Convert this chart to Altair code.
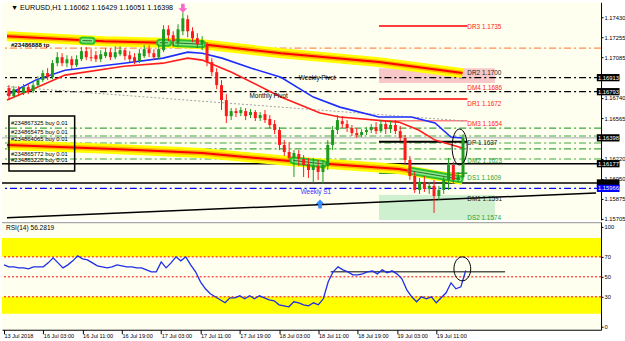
import altair as alt
import pandas as pd

FONT = "Liberation Sans"
GREEN = "#1E9B1E"
RED = "#FF1A1A"
DASHDOT = [7, 3, 2, 3]

# ---------------- data ----------------
# hourly bars, bar 0 = 13 Jul 2018 19:00
bar_open = [1.16824, 1.16755, 1.16815, 1.16781, 1.16832, 1.16798, 1.16849, 1.16892, 1.16952, 1.16917,
            1.17037, 1.17088, 1.17037, 1.17071, 1.17020, 1.17071, 1.17140, 1.17088, 1.17105, 1.17071,
            1.17097, 1.17131, 1.17088, 1.17114, 1.17148, 1.17105, 1.17088, 1.17054, 1.17097, 1.17157,
            1.17122, 1.17088, 1.17148, 1.17327, 1.17276, 1.17208, 1.17310, 1.17413, 1.17310, 1.17251,
            1.17199, 1.17191, 1.17046, 1.16960, 1.16849, 1.16721, 1.16584, 1.16627, 1.16610, 1.16627,
            1.16593, 1.16619, 1.16567, 1.16601, 1.16559, 1.16516, 1.16465, 1.16337, 1.16277, 1.16226,
            1.16260, 1.16217, 1.16174, 1.16123, 1.16157, 1.16106, 1.16157, 1.16337, 1.16465, 1.16542,
            1.16516, 1.16482, 1.16439, 1.16422, 1.16448, 1.16465, 1.16490, 1.16456, 1.16516, 1.16473,
            1.16508, 1.16456, 1.16397, 1.16209, 1.16072, 1.15952, 1.16012, 1.15961, 1.15987, 1.15901,
            1.15952, 1.16038, 1.16166, 1.16038, 1.16062]
bar_close = [1.16755, 1.16815, 1.16781, 1.16832, 1.16798, 1.16849, 1.16892, 1.16952, 1.16917, 1.17037,
             1.17088, 1.17037, 1.17071, 1.17020, 1.17071, 1.17140, 1.17088, 1.17080, 1.17071, 1.17114,
             1.17131, 1.17088, 1.17131, 1.17148, 1.17097, 1.17071, 1.17054, 1.17122, 1.17157, 1.17122,
             1.17088, 1.17157, 1.17327, 1.17276, 1.17225, 1.17327, 1.17421, 1.17310, 1.17251, 1.17199,
             1.17234, 1.17046, 1.16960, 1.16849, 1.16721, 1.16584, 1.16627, 1.16610, 1.16636, 1.16584,
             1.16619, 1.16567, 1.16593, 1.16550, 1.16508, 1.16465, 1.16337, 1.16277, 1.16226, 1.16268,
             1.16217, 1.16166, 1.16123, 1.16157, 1.16106, 1.16166, 1.16337, 1.16465, 1.16550, 1.16516,
             1.16482, 1.16439, 1.16422, 1.16448, 1.16465, 1.16490, 1.16456, 1.16516, 1.16473, 1.16508,
             1.16456, 1.16397, 1.16209, 1.16072, 1.15952, 1.16021, 1.15961, 1.15987, 1.15901, 1.15952,
             1.16038, 1.16166, 1.16038, 1.16063, 1.16398]
bar_high = [1.16849, 1.16841, 1.16841, 1.16858, 1.16858, 1.16875, 1.16926, 1.16977, 1.16994, 1.17063,
            1.17131, 1.17122, 1.17105, 1.17097, 1.17105, 1.17174, 1.17174, 1.17157, 1.17140, 1.17148,
            1.17165, 1.17165, 1.17182, 1.17182, 1.17165, 1.17140, 1.17122, 1.17157, 1.17191, 1.17191,
            1.17157, 1.17191, 1.17362, 1.17362, 1.17310, 1.17370, 1.17473, 1.17447, 1.17344, 1.17293,
            1.17268, 1.17216, 1.17080, 1.16994, 1.16892, 1.16772, 1.16653, 1.16653, 1.16661, 1.16653,
            1.16644, 1.16636, 1.16619, 1.16636, 1.16593, 1.16550, 1.16490, 1.16379, 1.16362, 1.16294,
            1.16294, 1.16251, 1.16226, 1.16226, 1.16209, 1.16209, 1.16379, 1.16499, 1.16593, 1.16584,
            1.16550, 1.16508, 1.16482, 1.16473, 1.16490, 1.16516, 1.16533, 1.16550, 1.16542, 1.16542,
            1.16550, 1.16499, 1.16422, 1.16243, 1.16106, 1.16055, 1.16072, 1.16021, 1.16038, 1.15987,
            1.16072, 1.16226, 1.16192, 1.16106, 1.16429]
bar_low = [1.16721, 1.16738, 1.16755, 1.16764, 1.16772, 1.16781, 1.16832, 1.16875, 1.16892, 1.16900,
           1.17011, 1.17011, 1.17003, 1.16986, 1.17003, 1.17054, 1.17063, 1.17054, 1.17046, 1.17046,
           1.17080, 1.17063, 1.17071, 1.17097, 1.17063, 1.17046, 1.17028, 1.17037, 1.17080, 1.17088,
           1.17063, 1.17071, 1.17131, 1.17225, 1.17174, 1.17174, 1.17276, 1.17259, 1.17216, 1.17165,
           1.17148, 1.17011, 1.16926, 1.16815, 1.16636, 1.16525, 1.16550, 1.16576, 1.16584, 1.16550,
           1.16567, 1.16542, 1.16542, 1.16525, 1.16482, 1.16431, 1.16294, 1.16243, 1.16192, 1.16063,
           1.16157, 1.16063, 1.16055, 1.16012, 1.16038, 1.16004, 1.16123, 1.16294, 1.16431, 1.16482,
           1.16448, 1.16414, 1.16397, 1.16405, 1.16422, 1.16439, 1.16431, 1.16439, 1.16431, 1.16439,
           1.16431, 1.16371, 1.16174, 1.16038, 1.15927, 1.15918, 1.15935, 1.15918, 1.15756, 1.15867,
           1.15918, 1.15952, 1.16004, 1.16021, 1.16051]
rsi14 = [62, 60, 60, 59, 59, 58, 60, 60, 60, 64,
         69, 64, 59, 62, 66, 71, 68, 67, 64, 61,
         60, 59, 60, 62, 61, 60, 60, 59, 59, 57,
         55, 55, 65, 59, 64, 70, 66, 70, 62, 55,
         45, 38, 33, 30, 27, 24, 29, 29, 31, 28,
         31, 28, 31, 29, 27, 26, 22, 21, 20, 25,
         24, 22, 21, 24, 22, 28, 45, 55, 60, 57,
         55, 52, 52, 53, 55, 56, 53, 57, 54, 56,
         53, 48, 37, 30, 25, 30, 28, 30, 24, 29,
         34, 44, 38, 40, 56.28]

time_tick_bars = [0, 8, 16, 24, 32, 40, 48, 56, 64, 72, 80, 88]
time_tick_labels = ["13 Jul 2018", "16 Jul 03:00", "16 Jul 11:00", "16 Jul 19:00", "17 Jul 03:00",
                    "17 Jul 11:00", "17 Jul 19:00", "18 Jul 03:00", "18 Jul 11:00", "18 Jul 19:00",
                    "19 Jul 03:00", "19 Jul 11:00"]
# visible price ticks (1.16910 and 1.16395 sit under the price tags)
price_ticks = [1.15705, 1.15875, 1.16050, 1.16220, 1.16565, 1.16740, 1.17085, 1.17255, 1.17430]
rsi_ticks = [0, 30, 50, 70, 100]

# moving averages (vertices)
blue_ma_bar = [-0.41, 5.5, 11.6, 23.8, 31.9, 37, 40, 44.1, 50.2, 56.3, 63, 68.5, 76.6, 83.3, 88.2, 91.5, 93.9]
blue_ma_price = [1.16764, 1.16892, 1.16977, 1.17037, 1.17080, 1.17131, 1.17122, 1.17080, 1.16994, 1.16917,
                 1.16747, 1.16661, 1.16576, 1.16576, 1.16525, 1.16405, 1.16397]
red_ma_bar = [-0.41, 5.5, 11.6, 23.8, 31.9, 37, 40, 46.1, 56.3, 64.4, 68.5, 80.7, 84.8, 88.2, 93.9]
red_ma_price = [1.16721, 1.16824, 1.16935, 1.17011, 1.17037, 1.17080, 1.17063, 1.16960, 1.16747, 1.16610,
                1.16576, 1.16533, 1.16465, 1.16379, 1.16311]
upper_band_bar = [-0.41, 19.7, 36, 40, 56.3, 76.6, 93.9]
upper_band_price = [1.17268, 1.17225, 1.17208, 1.17199, 1.17122, 1.17046, 1.16952]
lower_band_bar = [-0.41, 21.7, 40, 60.4, 80.7, 93.9]
lower_band_price = [1.16337, 1.16303, 1.16268, 1.16192, 1.16132, 1.16038]
# highlighted touches on the bands
touch_bar_start = [15.3, 31.3, 34.5, 58.9, 83.3]
touch_bar_end = [17.1, 32.9, 40.0, 65.0, 93.3]
touch_price_start = [1.17230, 1.17212, 1.17210, 1.16205, 1.16115]
touch_price_end = [1.17228, 1.17211, 1.17199, 1.16175, 1.16045]

# full-width levels
tp_level = [1.17165]
pivot_levels = [1.16913, 1.16793]
order_levels = [1.16482, 1.16414, 1.16354, 1.16303, 1.16217]
current_price = [1.16398]
black_levels = [1.16177, 1.16012]
s1_level = [1.15966]

# daily pivot segments
seg_bar_start = 76.6
seg_bar_end = 94.9
red_seg_levels = [1.17356, 1.16730]
pink_seg_levels = [1.16544]
black_seg_levels = [1.16365]
green_seg_levels = [1.16095]
zone_bar_end = 100.6
pink_zone = [1.16994, 1.16867]
green_zone = [1.15910, 1.15696]

label_bar = 94.9
red_level_text = ["DR3 1.1735", "DM4 1.1686", "DR1 1.1672", "DM3 1.1654"]
red_level_at = [1.17345, 1.16824, 1.16687, 1.16516]
black_level_text = ["DR2 1.1700", "DP 1.1637", "DM1 1.1591"]
black_level_at = [1.16952, 1.16354, 1.15876]
green_level_text = ["DM2 1.1623", "DS1 1.1609", "DS2 1.1574"]
green_level_at = [1.16200, 1.16055, 1.15713]

order_text = ["#234867325 buy 0.01", "#234865475 buy 0.01", "#234864065 buy 0.01",
              "#234865772 buy 0.01", "#234863220 buy 0.01"]
order_text_at = [1.16525, 1.16448, 1.16388, 1.16260, 1.16209]

axis_tag_black = [1.16913, 1.16793, 1.16398, 1.16177]
axis_tag_hidden = [1.16012]
axis_tag_blue = [1.15966]

# ---------------- scales / helpers ----------------
xs = alt.Scale(domain=[-0.41, 121.54], nice=False, zero=False)
ys = alt.Scale(domain=[1.15696, 1.17558], nice=False, zero=False)
rs = alt.Scale(domain=[-3, 105], nice=False, zero=False)

y_axis = alt.Axis(orient="right", values=price_ticks, format=".5f", labelFont=FONT, labelFontSize=5.8,
                  labelColor="black", tickSize=2, tickColor="black", domainColor="black", labelPadding=1,
                  grid=False, title=None, labelFlush=False, labelOverlap=False)
expr = "[" + ",".join("'%s'" % t for t in time_tick_labels) + "][round(datum.value/8)]"
x_axis = alt.Axis(values=time_tick_bars, labelExpr=expr, labelFont=FONT, labelFontSize=5.6,
                  labelAlign="left", labelBaseline="top", labelPadding=0, tickSize=4,
                  tickColor="black", domainColor="black", labelColor="black", grid=False, title=None,
                  labelFlush=False, labelOverlap=False)
r_axis = alt.Axis(orient="right", values=rsi_ticks, format="d", labelFont=FONT, labelFontSize=5.8,
                  labelColor="black", tickSize=2, tickColor="black", domainColor="black", labelPadding=1,
                  grid=False, title=None, labelFlush=False, labelOverlap=False)


def X(f):
    return alt.X(f, type="quantitative", scale=xs, axis=None)


def Y(f):
    return alt.Y(f, type="quantitative", scale=ys, axis=y_axis)


def XR(f):
    return alt.X(f, type="quantitative", scale=xs, axis=x_axis)


def YR(f):
    return alt.Y(f, type="quantitative", scale=rs, axis=r_axis)


def hlines(levels, color, width=1.0, dash=None):
    kw = dict(color=color, strokeWidth=width, clip=True)
    if dash:
        kw["strokeDash"] = dash
    return alt.Chart(pd.DataFrame({"price": levels})).mark_rule(**kw).encode(y=Y("price"))


def segs(levels, color, width=1.5):
    df = pd.DataFrame({"price": levels, "b0": seg_bar_start, "b1": seg_bar_end})
    return alt.Chart(df).mark_rule(color=color, strokeWidth=width).encode(x=X("b0"), x2="b1", y=Y("price"))


def texts(labels, at, color, size=6.4, bar=label_bar, weight="normal"):
    df = pd.DataFrame({"label": labels, "price": at, "bar": bar})
    return alt.Chart(df).mark_text(align="left", baseline="middle", font=FONT, fontSize=size,
                                   color=color, fontWeight=weight).encode(x=X("bar"), y=Y("price"),
                                                                         text="label:N")


def path(bars, prices, color, width, dash=None):
    df = pd.DataFrame({"bar": bars, "price": prices})
    kw = dict(color=color, strokeWidth=width, clip=True)
    if dash:
        kw["strokeDash"] = dash
    return alt.Chart(df).mark_line(**kw).encode(x=X("bar"), y=Y("price"), order="bar:Q")


# ---------------- main price panel ----------------
candles = pd.DataFrame({"bar": list(range(len(bar_open))), "open": bar_open, "close": bar_close,
                        "high": bar_high, "low": bar_low})
candles["dir"] = ["up" if c >= o else "down" for o, c in zip(bar_open, bar_close)]
ccol = alt.Color("dir:N", scale=alt.Scale(domain=["up", "down"], range=[GREEN, RED]), legend=None)

layers = []
layers.append(alt.Chart(pd.DataFrame({"b0": [seg_bar_start], "b1": [zone_bar_end], "p0": [pink_zone[0]],
                                      "p1": [pink_zone[1]]}))
              .mark_rect(color="#F8C8C8").encode(x=X("b0"), x2="b1", y=Y("p0"), y2="p1"))
layers.append(alt.Chart(pd.DataFrame({"b0": [seg_bar_start], "b1": [zone_bar_end], "p0": [green_zone[0]],
                                      "p1": [green_zone[1]]}))
              .mark_rect(color="#CFF0CF", clip=True).encode(x=X("b0"), x2="b1", y=Y("p0"), y2="p1"))
layers.append(hlines(order_levels, "#3FA63F", 1.2, DASHDOT))
layers.append(hlines(current_price, "#C8C8C8", 1.5))
layers.append(hlines(tp_level, "#FF8C50", 1.2, DASHDOT))
layers.append(hlines(pivot_levels, "#000000", 1.2, DASHDOT))
layers.append(hlines(black_levels, "#000000", 1.5))
layers.append(hlines(s1_level, "#0000FF", 1.2, DASHDOT))
layers.append(segs(red_seg_levels, "#FF0000"))
layers.append(segs(pink_seg_levels, "#FF8080"))
layers.append(segs(black_seg_levels, "#000000", 2))
layers.append(segs(green_seg_levels, "#2E9E2E"))
# dotted grey trend and black trend line
layers.append(path([-0.41, 94.5], [1.16837, 1.16542], "#A0A0A0", 1, [2, 2]))
layers.append(path([-0.41, 121.54], [1.15714, 1.15927], "#000000", 1.5))
# thick bands
for bb, pp in [(upper_band_bar, upper_band_price), (lower_band_bar, lower_band_price)]:
    layers.append(path(bb, pp, "#FFFF00", 10))
    layers.append(path(bb, pp, "#FFB400", 5))
    layers.append(path(bb, pp, "#FF0000", 2))
touch_rows = []
for k in range(len(touch_bar_start)):
    touch_rows.append({"bar": touch_bar_start[k], "price": touch_price_start[k], "seg": k})
    touch_rows.append({"bar": touch_bar_end[k], "price": touch_price_end[k], "seg": k})
touch_df = pd.DataFrame(touch_rows)
for col, w in [("#2EC02E", 8), ("#8CE88C", 4), ("#2A6E2A", 1)]:
    layers.append(alt.Chart(touch_df).mark_line(color=col, strokeWidth=w, strokeCap="round")
                  .encode(x=X("bar"), y=Y("price"), detail="seg:N", order="bar:Q"))
# moving averages
layers.append(path(blue_ma_bar, blue_ma_price, "#1E2EFF", 1.6))
layers.append(path(red_ma_bar, red_ma_price, "#FF1E1E", 1.6))
# candles
layers.append(alt.Chart(candles).mark_rule(strokeWidth=1).encode(x=X("bar"), y=Y("low"), y2="high",
                                                                 color=ccol))
layers.append(alt.Chart(candles).mark_bar(size=3).encode(x=X("bar"), y=Y("open"), y2="close", color=ccol))
# texts
layers.append(texts(red_level_text, red_level_at, "#FF2020"))
layers.append(texts(black_level_text, black_level_at, "#202020"))
layers.append(texts(green_level_text, green_level_at, "#2E9E2E"))
layers.append(texts(["Weekly Pivot"], [1.16909], "#000000", bar=60.0))
layers.append(texts(["Monthly Pivot"], [1.16755], "#000000", bar=49.8))
layers.append(texts(["Weekly S1"], [1.15935], "#3333FF", bar=60.4))
layers.append(texts(["#23486888 tp"], [1.17191], "#000000", size=6.2, bar=0.4, weight="bold"))
layers.append(texts(order_text, order_text_at, "#000000", size=5.9, bar=0.4))
layers.append(texts(["\u25bc EURUSD,H1  1.16062 1.16429 1.16051 1.16398"], [1.17507], "#000000",
                    size=7.2, bar=0.4))
# order box
layers.append(alt.Chart(pd.DataFrame({"b0": [0.0], "b1": [13.6], "p0": [1.16584], "p1": [1.16115]}))
              .mark_rect(fill=None, stroke="#000000", strokeWidth=1.5)
              .encode(x=X("b0"), x2="b1", y=Y("p0"), y2="p1"))
# arrows and ellipse
arrow_down = "M-0.4,-1 L0.4,-1 L0.4,0 L1,0 L0,1 L-1,0 L-0.4,0 Z"
arrow_up = "M-0.4,1 L0.4,1 L0.4,0 L1,0 L0,-1 L-1,0 L-0.4,0 Z"
layers.append(alt.Chart(pd.DataFrame({"bar": [36.0], "price": [1.17507]}))
              .mark_point(shape=arrow_down, filled=True, color="#FF66CC", size=81, opacity=1)
              .encode(x=X("bar"), y=Y("price")))
layers.append(alt.Chart(pd.DataFrame({"bar": [64.4], "price": [1.15833]}))
              .mark_point(shape=arrow_up, filled=True, color="#3A8DFF", size=81, opacity=1)
              .encode(x=X("bar"), y=Y("price")))
ellipse = "M0,-1 A0.42,1 0 1,1 0,1 A0.42,1 0 1,1 0,-1 Z"
layers.append(alt.Chart(pd.DataFrame({"bar": [93.3], "price": [1.16320]}))
              .mark_point(shape=ellipse, filled=False, color="#000000", size=1296, strokeWidth=1, opacity=1)
              .encode(x=X("bar"), y=Y("price")))
# right-axis price tags
HALF = 0.00031
for tags, col, show in [(axis_tag_hidden, "#000000", False), (axis_tag_black, "#000000", True),
                        (axis_tag_blue, "#0000FF", True)]:
    tdf = pd.DataFrame({"price": tags, "b0": 121.7, "b1": 126.4, "tb": 121.95,
                        "p0": [t + HALF for t in tags], "p1": [t - HALF for t in tags],
                        "label": ["%.5f" % t for t in tags]})
    layers.append(alt.Chart(tdf).mark_rect(color=col).encode(x=X("b0"), x2="b1", y=Y("p0"), y2="p1"))
    if show:
        layers.append(alt.Chart(tdf).mark_text(align="left", baseline="middle", font=FONT, fontSize=5.8,
                                               color="white").encode(x=X("tb"), y=Y("price"),
                                                                     text="label:N"))

main = alt.layer(*layers).properties(width=600, height=218)

# ---------------- RSI panel ----------------
rsi_df = pd.DataFrame({"bar": list(range(len(rsi14))), "rsi": rsi14})
rl = []
rl.append(alt.Chart(pd.DataFrame({"lo": [70, 13], "hi": [89, 30], "b0": -0.41, "b1": 121.54}))
          .mark_rect(color="#FFFF00").encode(x=XR("b0"), x2="b1", y=YR("lo"), y2="hi"))
rl.append(alt.Chart(pd.DataFrame({"lvl": [30, 50, 70]})).mark_rule(color="#FF0000", strokeDash=[2, 2],
                                                                   strokeWidth=1).encode(y=YR("lvl")))
rl.append(alt.Chart(pd.DataFrame({"lvl": [104.3]})).mark_rule(color="#A8A8A8", strokeWidth=1.5, clip=True)
          .encode(y=YR("lvl")))
rl.append(alt.Chart(pd.DataFrame({"b0": [66.5], "b1": [102.0], "v": [55]}))
          .mark_rule(color="#000000", strokeWidth=1).encode(x=XR("b0"), x2="b1", y=YR("v")))
rl.append(alt.Chart(rsi_df).mark_line(color="#1E2EE6", strokeWidth=1.3).encode(x=XR("bar"), y=YR("rsi")))
rl.append(alt.Chart(pd.DataFrame({"bar": [93.3], "v": [58]}))
          .mark_point(shape="M0,-1 A0.7,1 0 1,1 0,1 A0.7,1 0 1,1 0,-1 Z", filled=False, color="#000000",
                      size=576, strokeWidth=1, opacity=1)
          .encode(x=XR("bar"), y=YR("v")))
rl.append(alt.Chart(pd.DataFrame({"bar": [0.4], "v": [99], "label": ["RSI(14) 56.2819"]}))
          .mark_text(align="left", baseline="middle", font=FONT, fontSize=6.6, color="#000000")
          .encode(x=XR("bar"), y=YR("v"), text="label:N"))
rsi = alt.layer(*rl).properties(width=600, height=108)

chart = (alt.vconcat(main, rsi, spacing=2, bounds="flush")
         .resolve_scale(x="independent", y="independent", color="independent")
         .properties(padding={"left": 1, "top": 2, "right": 0, "bottom": 0}, background="#FFFFFF")
         .configure_view(stroke=None, fill="#FFFFF0"))

chart.save("out.html", embed_options={"renderer": "svg", "actions": False})
